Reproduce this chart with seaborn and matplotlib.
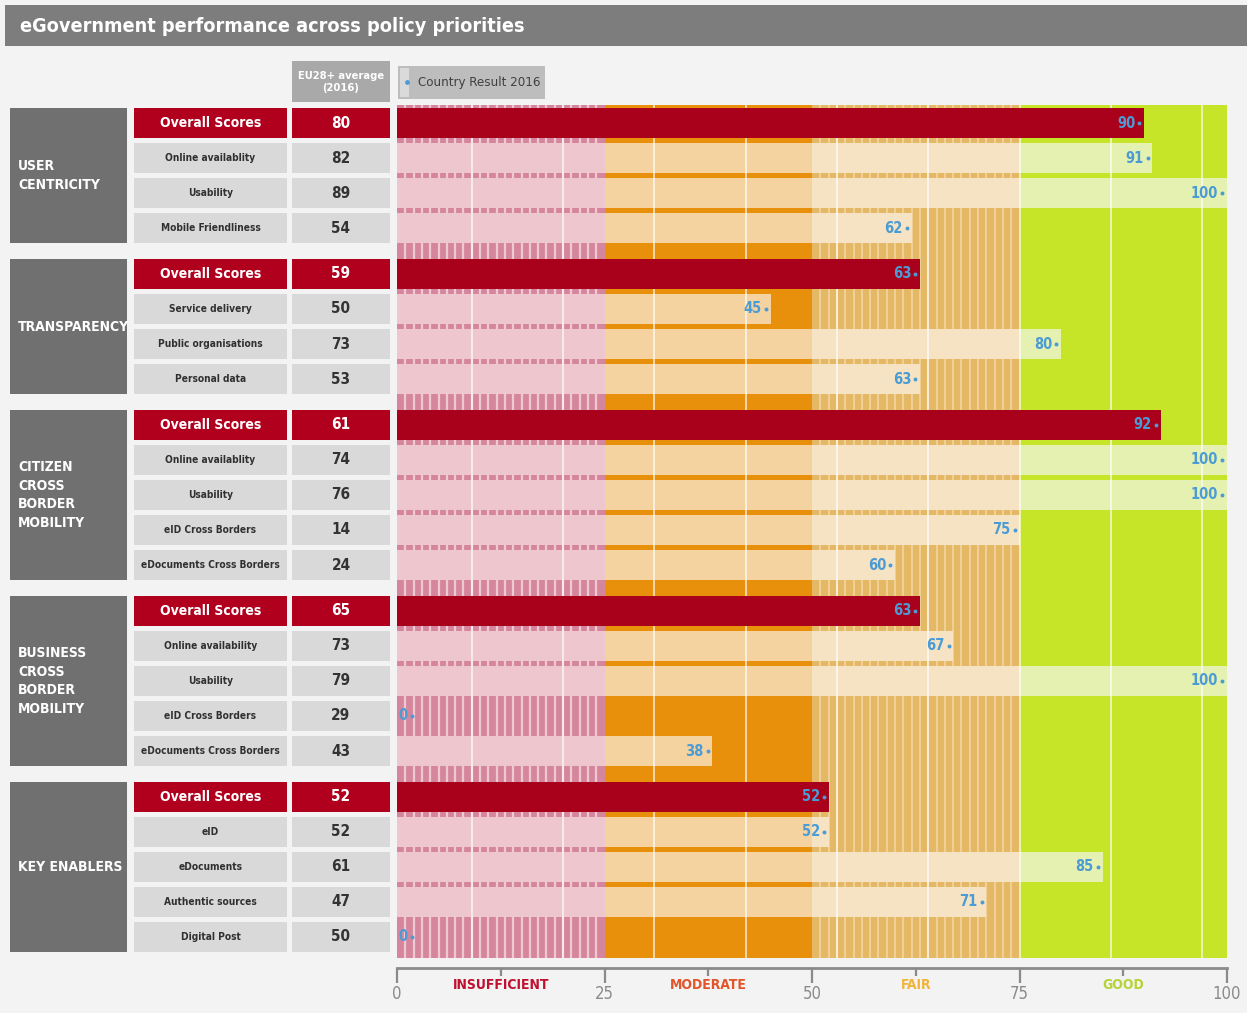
import numpy as np
import matplotlib
matplotlib.use("Agg")
import matplotlib.pyplot as plt
import seaborn as sns
from matplotlib.patches import Rectangle

sns.set_theme(style="white")
plt.rcParams["font.family"] = ["DejaVu Sans"]
plt.rcParams["font.stretch"] = "condensed"

# data
groups = ["USER\nCENTRICITY", "TRANSPARENCY", "CITIZEN\nCROSS\nBORDER\nMOBILITY",
          "BUSINESS\nCROSS\nBORDER\nMOBILITY", "KEY ENABLERS"]
group_sizes = [4, 4, 5, 5, 5]
indicators = ["Overall Scores", "Online availablity", "Usability", "Mobile Friendliness",
              "Overall Scores", "Service delivery", "Public organisations", "Personal data",
              "Overall Scores", "Online availablity", "Usability", "eID Cross Borders", "eDocuments Cross Borders",
              "Overall Scores", "Online availability", "Usability", "eID Cross Borders", "eDocuments Cross Borders",
              "Overall Scores", "eID", "eDocuments", "Authentic sources", "Digital Post"]
eu_avg = [80, 82, 89, 54,
          59, 50, 73, 53,
          61, 74, 76, 14, 24,
          65, 73, 79, 29, 43,
          52, 52, 61, 47, 50]
country = [90, 91, 100, 62,
           63, 45, 80, 63,
           92, 100, 100, 75, 60,
           63, 67, 100, 0, 38,
           52, 52, 85, 71, 0]
zone_edges = [0, 25, 50, 75, 100]
zone_names = ["INSUFFICIENT", "MODERATE", "FAIR", "GOOD"]

# colours
zone_dark = ["#d5869d", "#e88f0c", "#e5b866", "#c6e428"]
zone_light = ["#edc6ce", "#f5d3a0", "#f5e3c3", "#e5f1b1"]
zone_text = ["#c0102f", "#e2542a", "#f0b43a", "#b5d336"]
RED = "#a9001b"
BLUE = "#4b9bd4"
W, H = 1247, 1013

# row positions with a small gap between groups
gap = 0.314
ypos = []
for g, n in enumerate(group_sizes):
    start = sum(group_sizes[:g]) + g * gap
    ypos += [start + i for i in range(n)]
ypos = np.array(ypos)
is_overall = np.array([s == "Overall Scores" for s in indicators])
country = np.array(country)
bar_h = 0.88
ylim = (ypos[-1] + 0.6, -0.5)

fig = plt.figure(figsize=(W / 100, H / 100), dpi=100, facecolor="#f3f3f3")

# ---- bar area
ax = fig.add_axes([397 / W, 55 / H, 830 / W, 852.5 / H])
ax.set_facecolor("none")
ax.set_xlim(0, 100)
ax.set_ylim(*ylim)

# zone backgrounds (pink and tan are striped)
for z in range(4):
    ax.axvspan(zone_edges[z], zone_edges[z + 1], color=zone_dark[z], lw=0, zorder=0)
ax.vlines(np.arange(1, 25, 1), *ylim, color="#efc9d2", lw=1.6, zorder=1)
ax.vlines(np.arange(51, 75, 1), *ylim, color="#f2d7a2", lw=1.2, zorder=1)

# light country bars for indicator rows, split by zone
for y, v, ov in zip(ypos, country, is_overall):
    if ov:
        continue
    for z in range(4):
        lo, hi = zone_edges[z], zone_edges[z + 1]
        if v > lo:
            ax.barh(y, min(v, hi) - lo, left=lo, height=bar_h, color=zone_light[z], lw=0, zorder=2)

# faint grid
ax.vlines(np.arange(9, 100, 11), *ylim, color="white", lw=1.2, alpha=0.75, zorder=3)

# overall score bars
ax.barh(ypos[is_overall], country[is_overall], height=bar_h, color=RED, lw=0, zorder=4)

# value labels with dots
anchor = np.maximum(country, 2.3)
sns.scatterplot(x=anchor - 0.55, y=ypos, ax=ax, s=8, color=BLUE, linewidth=0, zorder=6, legend=False)
for y, v, a in zip(ypos, country, anchor):
    ax.text(a - 1.05, y, str(v), ha="right", va="center", color=BLUE, fontsize=10.5,
            fontweight="bold", zorder=6)
ax.set_ylim(*ylim)

# bottom axis
for s in ["top", "right", "left"]:
    ax.spines[s].set_visible(False)
ax.spines["bottom"].set_position(("outward", 7.2))
ax.spines["bottom"].set_color("#8a8a8a")
ax.spines["bottom"].set_linewidth(2)
ax.set_xticks(zone_edges)
ax.set_xticks([12.5, 37.5, 62.5, 87.5], minor=True)
ax.set_yticks([])
ax.tick_params(axis="x", which="major", length=11, width=1.6, color="#8a8a8a", direction="out",
               labelsize=12, labelcolor="#8a8a8a", pad=1.5, bottom=True)
ax.tick_params(axis="x", which="minor", length=6, width=1.6, color="#8a8a8a", direction="out", bottom=True)
for z, name in enumerate(zone_names):
    ax.annotate(name, xy=((zone_edges[z] + zone_edges[z + 1]) / 2, 0), xycoords=("data", "axes fraction"),
                xytext=(0, -27), textcoords="offset pixels", ha="center", va="center",
                fontsize=10, fontweight="bold", color=zone_text[z])

# ---- left table
tab = fig.add_axes([0, 55 / H, 397 / W, 852.5 / H])
tab.set_xlim(0, 397)
tab.set_ylim(*ylim)
tab.axis("off")
start = 0
for g, n in enumerate(group_sizes):
    y0, y1 = ypos[start], ypos[start + n - 1]
    tab.add_patch(Rectangle((10, y0 - bar_h / 2), 117, y1 - y0 + bar_h, color="#707070", lw=0))
    tab.text(18, (y0 + y1) / 2, groups[g], ha="left", va="center", color="white",
             fontsize=10, fontweight="bold", linespacing=1.45)
    start += n
box_col = np.where(is_overall, "#b0001e", "#d9d9d9")
tab.barh(ypos, 153, left=134, height=bar_h, color=box_col, lw=0)
tab.barh(ypos, 98, left=292, height=bar_h, color=box_col, lw=0)
for y, name, e, ov in zip(ypos, indicators, eu_avg, is_overall):
    tab.text(210.5, y, name, ha="center", va="center", fontweight="bold",
             color="white" if ov else "#303030", fontsize=10 if ov else 7.3)
    tab.text(341, y, str(e), ha="center", va="center", fontweight="bold",
             color="white" if ov else "#333333", fontsize=11)

# ---- header, legend, title (pixel coordinates)
top = fig.add_axes([0, 0, 1, 1], zorder=-1)
top.set_xlim(0, W)
top.set_ylim(H, 0)
top.axis("off")
top.add_patch(Rectangle((5, 5), 1242, 41, color="#7d7d7d", lw=0))
top.text(20, 26, "eGovernment performance across policy priorities", color="white",
         fontsize=14.2, fontweight="bold", va="center", ha="left")
top.add_patch(Rectangle((292, 61), 98, 41, color="#a9a9a9", lw=0))
top.text(341, 82, "EU28+ average\n(2016)", color="white", fontsize=8, fontweight="bold",
         ha="center", va="center", linespacing=1.2)
top.add_patch(Rectangle((398, 66), 147, 33, color="#bdbdbd", lw=0))
top.add_patch(Rectangle((400, 68), 9, 29, color="#dadada", lw=0))
top.scatter([407], [82], s=12, color=BLUE, lw=0)
top.text(418, 82, "Country Result 2016", color="#404040", fontsize=9.5, ha="left", va="center")

fig.savefig("out.png", dpi=100, facecolor=fig.get_facecolor())
